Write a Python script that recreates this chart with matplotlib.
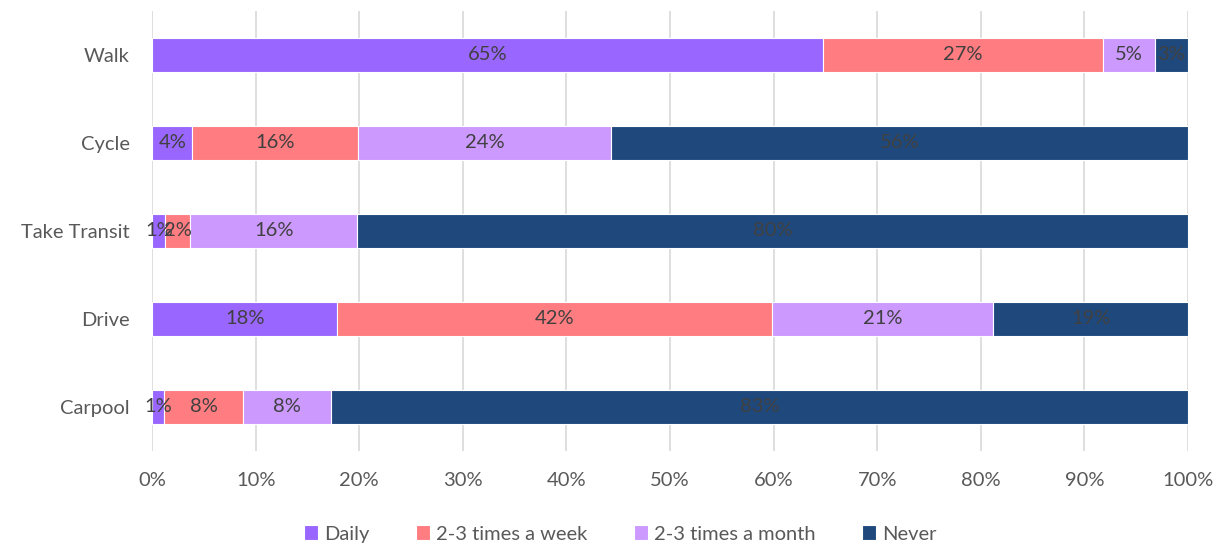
import matplotlib
matplotlib.use("Agg")
import matplotlib.pyplot as plt
import numpy as np
from matplotlib.ticker import PercentFormatter

plt.rcParams["font.family"] = ["Lato", "DejaVu Sans"]

modes = ["Walk", "Cycle", "Take Transit", "Drive", "Carpool"]
series_names = ["Daily", "2-3 times a week", "2-3 times a month", "Never"]
daily   = [64.8, 3.9, 1.3, 17.9, 1.2]
weekly  = [27.0, 16.0, 2.4, 41.9, 7.6]
monthly = [5.0, 24.4, 16.1, 21.4, 8.5]
never   = [3.2, 55.7, 80.2, 18.8, 82.7]
colors = ["#9966FF", "#FF7C80", "#CC99FF", "#1F497D"]

TEXT = "#595959"
LABEL = "#404040"
FS = 14.5

fig = plt.figure(figsize=(12.21, 5.46), dpi=100)
# plot area: x 152..1188 px, y 11..451 px
ax = fig.add_axes([0.1245, 0.174, 0.8485, 0.806])

y = np.arange(len(modes))
left = np.zeros(len(modes))
for name, vals, col in zip(series_names, [daily, weekly, monthly, never], colors):
    vals = np.array(vals)
    bars = ax.barh(y, vals, left=left, height=0.39, color=col, label=name,
                   edgecolor="white", linewidth=0.8, zorder=3)
    ax.bar_label(bars, labels=[f"{v:.0f}%" for v in vals], label_type="center",
                 fontsize=FS, color=LABEL, zorder=4)
    left += vals

ax.set_xlim(0, 100)
ax.set_ylim(4.5, -0.5)
ax.set_yticks(y)
ax.set_yticklabels(modes)
ax.set_xticks(np.arange(0, 101, 10))
ax.xaxis.set_major_formatter(PercentFormatter(decimals=0))
ax.tick_params(axis="both", length=0, labelsize=FS, colors=TEXT)
ax.tick_params(axis="x", pad=15)
ax.tick_params(axis="y", pad=16)
ax.grid(axis="x", color="#D9D9D9", linewidth=1.2, zorder=0)
for s in ax.spines.values():
    s.set_visible(False)

handles, labels = ax.get_legend_handles_labels()
fig.legend(handles, labels, loc="center", bbox_to_anchor=(0.508, 0.022), ncol=4,
           frameon=False, fontsize=FS, labelcolor=TEXT, handlelength=0.7,
           handleheight=0.7, handletextpad=0.3, columnspacing=2.3)

fig.savefig("out.png", dpi=100)
